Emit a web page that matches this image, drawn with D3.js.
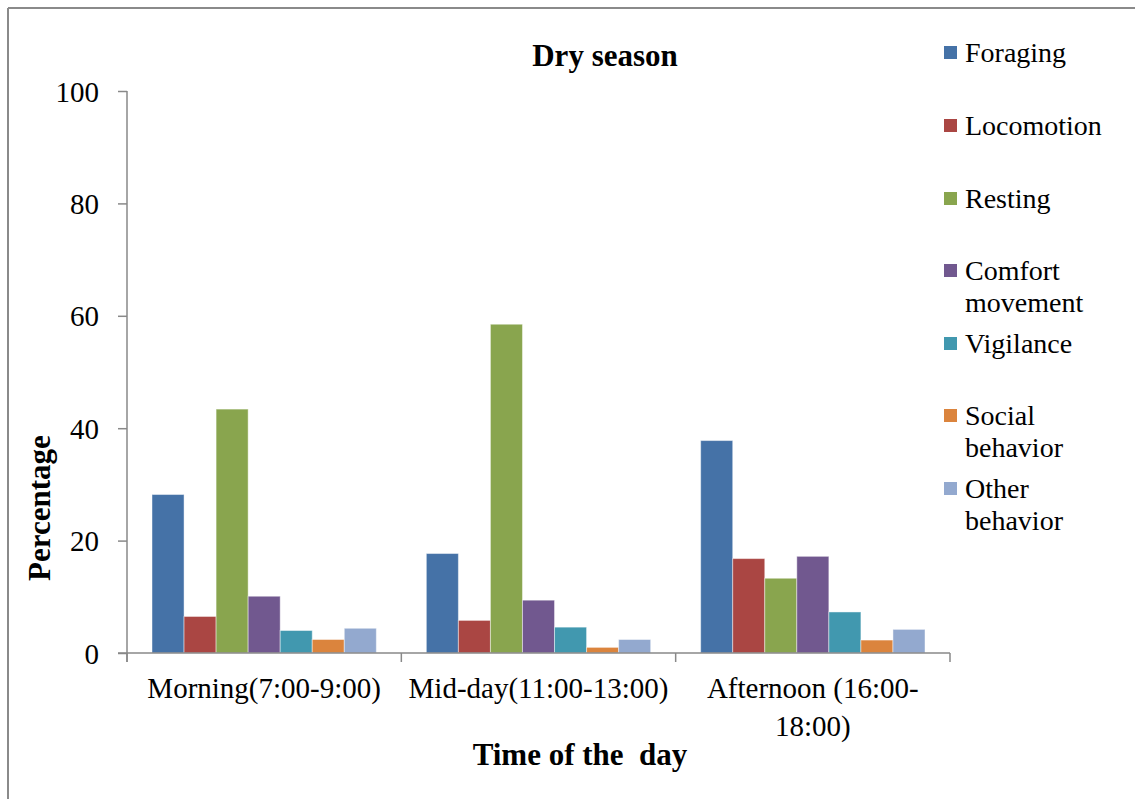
<!DOCTYPE html>
<html><head><meta charset="utf-8">
<script src="https://cdn.jsdelivr.net/npm/d3@7"></script>
<style>
body{margin:0;background:#fff;}
svg{display:block;font-family:"Liberation Serif","Times New Roman",serif;}
svg text{font-family:"Liberation Serif","Times New Roman",serif;}
</style></head>
<body>
<svg id="chart" width="1135" height="799"></svg>
<script>
const categories = ["Morning(7:00-9:00)", "Mid-day(11:00-13:00)", "Afternoon (16:00-18:00)"];
const categoryLines = [["Morning(7:00-9:00)"], ["Mid-day(11:00-13:00)"], ["Afternoon (16:00-", "18:00)"]];
const series = ["Foraging", "Locomotion", "Resting", "Comfort movement", "Vigilance", "Social behavior", "Other behavior"];
const legendLines = [["Foraging"], ["Locomotion"], ["Resting"], ["Comfort", "movement"], ["Vigilance"], ["Social", "behavior"], ["Other", "behavior"]];
const colors = ["#4572A7", "#AA4643", "#89A54E", "#71588F", "#4198AF", "#DB843D", "#93A9CF"];
// values[series][category]
const foraging   = [28.2, 17.7, 37.8];
const locomotion = [6.5, 5.8, 16.8];
const resting    = [43.4, 58.5, 13.3];
const comfort    = [10.1, 9.4, 17.2];
const vigilance  = [4.0, 4.6, 7.3];
const social     = [2.4, 1.0, 2.3];
const other      = [4.4, 2.4, 4.2];
const values = [foraging, locomotion, resting, comfort, vigilance, social, other];
const yTicks = [0, 20, 40, 60, 80, 100];

const FONT = "Liberation Serif";
const svg = d3.select("#chart");
const axisColor = "#898989";

// outer frame (top & left)
svg.append("line").attr("x1", 8).attr("x2", 1135).attr("y1", 8).attr("y2", 8).attr("stroke", "#8a8a8a").attr("stroke-width", 2);
svg.append("line").attr("x1", 8).attr("x2", 8).attr("y1", 8).attr("y2", 799).attr("stroke", "#8a8a8a").attr("stroke-width", 2);

const pL = 127, pR = 950, pT = 91, pB = 653;
const y = d3.scaleLinear().domain([0, 100]).range([pB, pT]);
const x0 = d3.scaleBand().domain(categories).range([pL, pR]).padding(0);
const x1 = d3.scaleBand().domain(series).range([25, x0.bandwidth() - 25]).padding(0);

// bars
const g = svg.append("g");
categories.forEach((c, ci) => {
  const cg = g.append("g").attr("transform", `translate(${x0(c)},0)`);
  cg.selectAll("rect").data(series).join("rect")
    .attr("x", s => x1(s))
    .attr("width", x1.bandwidth())
    .attr("y", (s, si) => y(values[si][ci]))
    .attr("height", (s, si) => pB - y(values[si][ci]))
    .attr("fill", (s, si) => colors[si])
    .attr("stroke", "rgba(255,255,255,0.45)")
    .attr("stroke-width", 1);
});

// y axis
const yAxis = svg.append("g").attr("transform", `translate(${pL},0)`)
  .call(d3.axisLeft(y).tickValues(yTicks).tickSize(9).tickPadding(19).tickFormat(d3.format("d")));
yAxis.attr("font-family", FONT);
yAxis.select(".domain").remove();
yAxis.selectAll(".tick line").attr("stroke", axisColor).attr("stroke-width", 1.5);
yAxis.selectAll(".tick text").attr("font-family", FONT).attr("font-size", 29).attr("fill", "#000").attr("dy", "0.35em");
svg.append("line").attr("x1", pL).attr("x2", pL).attr("y1", pT).attr("y2", pB + 9).attr("stroke", axisColor).attr("stroke-width", 1.5);

// x axis
svg.append("line").attr("x1", pL - 9).attr("x2", pR).attr("y1", pB).attr("y2", pB).attr("stroke", axisColor).attr("stroke-width", 1.5);
const bounds = categories.map(c => x0(c)).concat([pR]);
svg.selectAll(".xtick").data(bounds).join("line").attr("class", "xtick")
  .attr("x1", d => d).attr("x2", d => d).attr("y1", pB).attr("y2", pB + 9)
  .attr("stroke", axisColor).attr("stroke-width", 1.5);

categories.forEach((c, ci) => {
  const lines = categoryLines[ci];
  const cx = x0(c) + x0.bandwidth() / 2;
  const t = svg.append("text").attr("font-family", FONT).attr("font-size", 29).attr("fill", "#000")
    .attr("text-anchor", "middle");
  lines.forEach((ln, li) => {
    t.append("tspan").attr("x", cx).attr("y", 698 + li * 38).text(ln);
  });
});

// title
svg.append("text").attr("x", 605).attr("y", 66).attr("text-anchor", "middle").attr("font-family", FONT)
  .attr("font-size", 31).attr("font-weight", "bold").text("Dry season");

// axis titles
svg.append("text").attr("transform", "translate(50,508) rotate(-90)").attr("text-anchor", "middle").attr("font-family", FONT)
  .attr("font-size", 31).attr("font-weight", "bold").text("Percentage");
svg.append("text").attr("x", 580).attr("y", 765).attr("text-anchor", "middle").attr("font-family", FONT)
  .attr("font-size", 31).attr("font-weight", "bold").style("white-space", "pre").text("Time of the  day");

// legend
const legendY = [52, 125, 198, 270, 343, 415, 488];
series.forEach((s, si) => {
  const ly = legendY[si];
  svg.append("rect").attr("x", 944).attr("y", ly - 6).attr("width", 13).attr("height", 13).attr("fill", colors[si]);
  const t = svg.append("text").attr("font-family", FONT).attr("font-size", 28).attr("fill", "#000");
  legendLines[si].forEach((ln, li) => {
    t.append("tspan").attr("x", 965).attr("y", ly + 10 + li * 32).text(ln);
  });
});
</script>
</body></html>
